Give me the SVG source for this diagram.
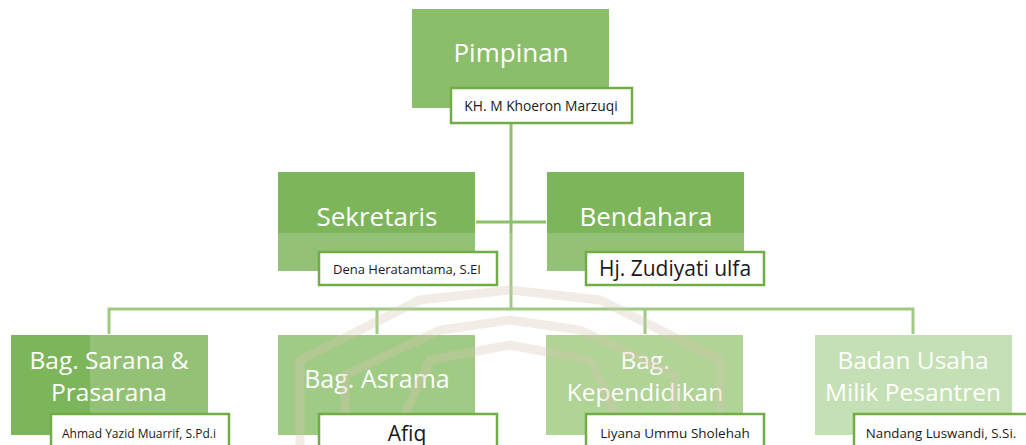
<svg xmlns="http://www.w3.org/2000/svg" width="1026" height="445" viewBox="0 0 1026 445">
<style>
.box{stroke:none}
.name{fill:#ffffff;stroke:#70AD47;stroke-width:2.5}
.t1{font-family:"Open Sans","Liberation Sans",sans-serif;fill:#ffffff;text-anchor:middle}
.t2{font-family:"Open Sans","Liberation Sans",sans-serif;fill:#1a1a1a;text-anchor:middle}
.ln{stroke:#8DC06B;stroke-width:3;fill:none}
</style>
<rect width="1026" height="445" fill="#ffffff"/>
<g id="connectors">
<line class="ln" x1="511" y1="123" x2="511" y2="309"/>
<line class="ln" x1="476" y1="222" x2="546" y2="222"/>
<polyline class="ln" points="109,334 109,309 913,309 913,334"/>
<line class="ln" x1="377" y1="309" x2="377" y2="334"/>
<line class="ln" x1="645" y1="309" x2="645" y2="334"/>
</g>
<g id="pimpinan">
<rect class="box" x="412" y="9" width="197" height="99" fill="#8BBE6A"/>
<text class="t1" x="511" y="62" font-size="26">Pimpinan</text>
</g>
<g id="sekretaris">
<rect class="box" x="278" y="172" width="197" height="99" fill="#7DB55A"/>
<text class="t1" x="377" y="226" font-size="26">Sekretaris</text>
</g>
<g id="bendahara">
<rect class="box" x="547" y="172" width="197" height="99" fill="#7DB55A"/>
<text class="t1" x="646" y="226" font-size="26">Bendahara</text>
</g>
<g id="sarana">
<rect class="box" x="11" y="335" width="197" height="100" fill="#7DB55A"/>
<text class="t1" x="109" y="369" font-size="24.5">Bag. Sarana &amp;</text>
<text class="t1" x="109" y="401" font-size="24.5">Prasarana</text>
</g>
<g id="asrama">
<rect class="box" x="278" y="335" width="197" height="100" fill="#8DC16C"/>
<text class="t1" x="377" y="388" font-size="25">Bag. Asrama</text>
</g>
<g id="kependidikan">
<rect class="box" x="546" y="335" width="197" height="100" fill="#A0CA81"/>
<text class="t1" x="645" y="369" font-size="24.5">Bag.</text>
<text class="t1" x="645" y="401" font-size="24.5">Kependidikan</text>
</g>
<g id="badan-usaha">
<rect class="box" x="815" y="335" width="197" height="100" fill="#B9DAA5"/>
<text class="t1" x="913" y="369" font-size="24.5">Badan Usaha</text>
<text class="t1" x="913" y="401" font-size="24.5">Milik Pesantren</text>
</g>
<g id="watermark">
<rect x="90" y="233" width="936" height="212" fill="#ffffff" opacity="0.17"/>
<g fill="none" stroke="#D9C6B4" stroke-width="9" opacity="0.32">
<polyline points="300,445 300,360 420,300 510,290 600,300 720,360 720,445"/>
<polyline points="345,445 345,375 440,330 510,320 580,330 675,375 675,445"/>
<polyline points="390,445 430,360 510,345 590,360 630,445"/>
</g>
</g>
<g id="name-pimpinan">
<rect class="name" x="451" y="88" width="181" height="35"/>
<text class="t2" x="541" y="111" font-size="13.8">KH. M Khoeron Marzuqi</text>
</g>
<g id="name-sekretaris">
<rect class="name" x="319" y="252" width="178" height="33"/>
<text class="t2" x="407" y="274" font-size="13">Dena Heratamtama, S.EI</text>
</g>
<g id="name-bendahara">
<rect class="name" x="586" y="252" width="178" height="33"/>
<text class="t2" x="675" y="276" font-size="21">Hj. Zudiyati ulfa</text>
</g>
<g id="name-sarana">
<rect class="name" x="51" y="414" width="178" height="40"/>
<text class="t2" x="139" y="438" font-size="12">Ahmad Yazid Muarrif, S.Pd.i</text>
</g>
<g id="name-asrama">
<rect class="name" x="319" y="414" width="178" height="40"/>
<text class="t2" x="407" y="441" font-size="21">Afiq</text>
</g>
<g id="name-kependidikan">
<rect class="name" x="586" y="414" width="178" height="40"/>
<text class="t2" x="675" y="438" font-size="13.5">Liyana Ummu Sholehah</text>
</g>
<g id="name-badan-usaha">
<rect class="name" x="854" y="414" width="178" height="40"/>
<text class="t2" x="941" y="438" font-size="13.3">Nandang Luswandi, S.Si.</text>
</g>
</svg>
